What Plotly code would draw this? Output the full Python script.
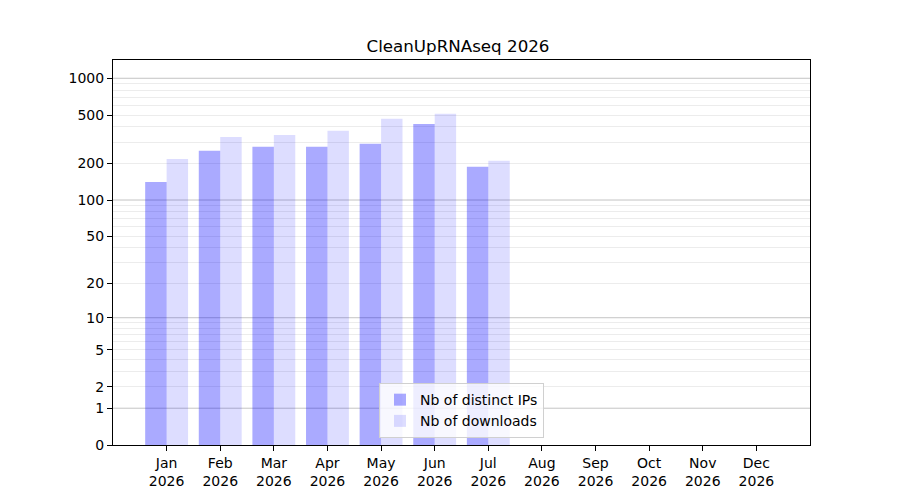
import numpy as np
import plotly.graph_objects as go

# --- DATA ---
MONTHS = ["Jan", "Feb", "Mar", "Apr", "May", "Jun", "Jul", "Aug", "Sep", "Oct", "Nov", "Dec"]
YEAR = 2026
PACKAGE = "CleanUpRNAseq"

distinct_ips = [141, 254, 274, 274, 290, 423, 188]
downloads = [218, 330, 343, 371, 465, 511, 211]

Y_TICKS = [0, 1, 2, 5, 10, 20, 50, 100, 200, 500, 1000]
DECADES = [1, 10, 100, 1000]

FONT = "DejaVu Sans, Liberation Sans, sans-serif"


def tr(v):
    """log(1 + y) transform used for the y axis."""
    return np.log10(1.0 + np.asarray(v, dtype=float))


# minor grid at 2..9 of every decade
minor_vals = [m * d for d in (1, 10, 100) for m in range(2, 10)]

fig = go.Figure()
x_pos = np.arange(len(distinct_ips))

fig.add_trace(go.Bar(
    x=x_pos, y=tr(distinct_ips), name="Nb of distinct IPs",
    marker=dict(color="rgba(0,0,255,0.333)", line=dict(width=0)),
))
fig.add_trace(go.Bar(
    x=x_pos, y=tr(downloads), name="Nb of downloads",
    marker=dict(color="rgba(0,0,255,0.133)", line=dict(width=0)),
))

# darker gridlines at every decade
for d in DECADES:
    fig.add_hline(y=float(tr(d)), line_color="#c4c4c4", line_width=1, layer="below")

fig.update_layout(
    title=dict(text=f"{PACKAGE} {YEAR}", x=0.5, xanchor="center", y=0.924, yanchor="middle",
               font=dict(family=FONT, size=16.7, color="black")),
    barmode="group",
    bargap=0.2,
    bargroupgap=0,
    width=900,
    height=500,
    margin=dict(l=105, r=98, t=52, b=63),
    paper_bgcolor="white",
    plot_bgcolor="white",
    font=dict(family=FONT, size=14, color="black"),
    xaxis=dict(
        range=[-1, 12],
        tickmode="array",
        tickvals=list(range(len(MONTHS))),
        ticktext=[f"{m}<br>{YEAR}" for m in MONTHS],
        ticks="outside", ticklen=5, tickcolor="black",
        showgrid=False, zeroline=False,
        showline=True, linecolor="black", linewidth=1, mirror=True,
        tickfont=dict(family=FONT, size=14, color="black"),
    ),
    yaxis=dict(
        range=[0, 3.15],
        tickmode="array",
        tickvals=list(tr(Y_TICKS)),
        ticktext=[str(v) for v in Y_TICKS],
        ticks="outside", ticklen=5, tickcolor="black",
        showgrid=False, zeroline=False,
        showline=True, linecolor="black", linewidth=1, mirror=True,
        tickfont=dict(family=FONT, size=14, color="black"),
        minor=dict(tickmode="array", tickvals=list(tr(minor_vals)),
                   showgrid=True, gridcolor="#ececec", gridwidth=1, ticks=""),
    ),
    legend=dict(
        x=0.5, xanchor="center", y=0.018, yanchor="bottom",
        bgcolor="rgba(255,255,255,0.8)", bordercolor="#d0d0d0", borderwidth=1,
        font=dict(family=FONT, size=14, color="black"),
        itemwidth=30,
    ),
    showlegend=True,
)

fig.write_html("out.html")
